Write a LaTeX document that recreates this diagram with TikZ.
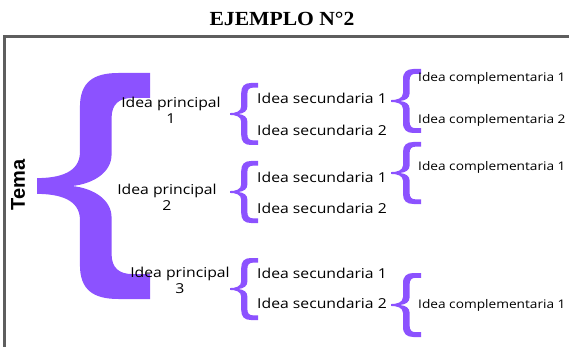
\documentclass[tikz,border=0pt]{standalone}
\usepackage{fontspec}
\newfontfamily\ideafont[FakeStretch=1.15]{Open Sans}
\newfontfamily\titlefont[FakeStretch=1.08]{Liberation Serif}
\newfontfamily\temafont{Liberation Sans}
\definecolor{morado}{HTML}{8C52FF}
\definecolor{marcogris}{HTML}{5E5E5E}
\tikzset{
  llavegrande/.pic={
    \fill[morado] (1,1) -- (0.72,1) .. controls (0.5,1) and (0.38,0.92) .. (0.38,0.7)
      -- (0.38,0.3) .. controls (0.38,0.12) and (0.2,0.07) .. (0,0.07)
      -- (0,-0.07) .. controls (0.2,-0.07) and (0.38,-0.12) .. (0.38,-0.3)
      -- (0.38,-0.7) .. controls (0.38,-0.92) and (0.5,-1) .. (0.72,-1)
      -- (1,-1) -- (1,-0.78) -- (0.85,-0.78) .. controls (0.72,-0.78) and (0.66,-0.72) .. (0.66,-0.6)
      -- (0.66,-0.28) .. controls (0.66,-0.12) and (0.5,-0.02) .. (0.31,0)
      .. controls (0.5,0.02) and (0.66,0.12) .. (0.66,0.28)
      -- (0.66,0.6) .. controls (0.66,0.72) and (0.72,0.78) .. (0.85,0.78) -- (1,0.78) -- cycle;
  },
  llave/.pic={
    \fill[morado] (1,1) -- (0.75,1) .. controls (0.52,1) and (0.4,0.9) .. (0.4,0.68)
      -- (0.4,0.25) .. controls (0.4,0.08) and (0.2,0.03) .. (0,0.03)
      -- (0,-0.03) .. controls (0.2,-0.03) and (0.4,-0.08) .. (0.4,-0.25)
      -- (0.4,-0.68) .. controls (0.4,-0.9) and (0.52,-1) .. (0.75,-1)
      -- (1,-1) -- (1,-0.85) -- (0.82,-0.85) .. controls (0.68,-0.85) and (0.62,-0.78) .. (0.62,-0.64)
      -- (0.62,-0.24) .. controls (0.62,-0.1) and (0.5,-0.02) .. (0.3,0)
      .. controls (0.5,0.02) and (0.62,0.1) .. (0.62,0.24)
      -- (0.62,0.64) .. controls (0.62,0.78) and (0.68,0.85) .. (0.82,0.85) -- (1,0.85) -- cycle;
  }
}
\begin{document}
\begin{tikzpicture}[x=1pt,y=-1pt,
principal/.style ={align=center, inner sep=0pt,
  font=\ideafont\fontsize{13.7}{16}\selectfont
},
secundaria/.style ={anchor=west, inner sep=0pt,
  font=\ideafont\fontsize{13.7}{16}\selectfont
},
complementaria/.style ={anchor=west, inner sep=0pt,
  font=\ideafont\fontsize{11.9}{14}\selectfont
}]
\useasboundingbox (0,0) rectangle (569,347);
\draw[marcogris, line width=3pt] (4,347) |- (569,37);
\node (titulo) at (282,19) [font=\titlefont\bfseries\fontsize{20}{22}\selectfont] {EJEMPLO N°2};
\node (tema) at (18,185) [rotate=90, font=\temafont\bfseries\fontsize{20}{22}\selectfont] {Tema};

% llave grande
\pic[xscale=113, yscale=113] at (37,186) {llavegrande};

\node (p1) at (171,110) [principal] {Idea principal\\1};
\node (p2) at (167,197) [principal] {Idea principal\\2};
\node (p3) at (180,280) [principal] {Idea principal\\3};

% ideas secundarias
\pic[xscale=28, yscale=31] at (230,114) {llave};
\node (s1) at (257,98) [secundaria] {Idea secundaria 1};
\node (s2) at (257,130) [secundaria] {Idea secundaria 2};

\pic[xscale=28, yscale=31] at (230,192) {llave};
\node (s3) at (257,177) [secundaria] {Idea secundaria 1};
\node (s4) at (257,208) [secundaria] {Idea secundaria 2};

\pic[xscale=28, yscale=31] at (230,289) {llave};
\node (s5) at (257,273) [secundaria] {Idea secundaria 1};
\node (s6) at (257,303) [secundaria] {Idea secundaria 2};

% ideas complementarias
\pic[xscale=30, yscale=32] at (391,101) {llave};
\node (c1) at (418,78) [complementaria] {Idea complementaria 1};
\node (c2) at (418,120) [complementaria] {Idea complementaria 2};

\pic[xscale=30, yscale=31] at (391,173) {llave};
\node (c3) at (418,167) [complementaria] {Idea complementaria 1};

\pic[xscale=30, yscale=32] at (391,305) {llave};
\node (c4) at (418,305) [complementaria] {Idea complementaria 1};

\end{tikzpicture}
\end{document}
